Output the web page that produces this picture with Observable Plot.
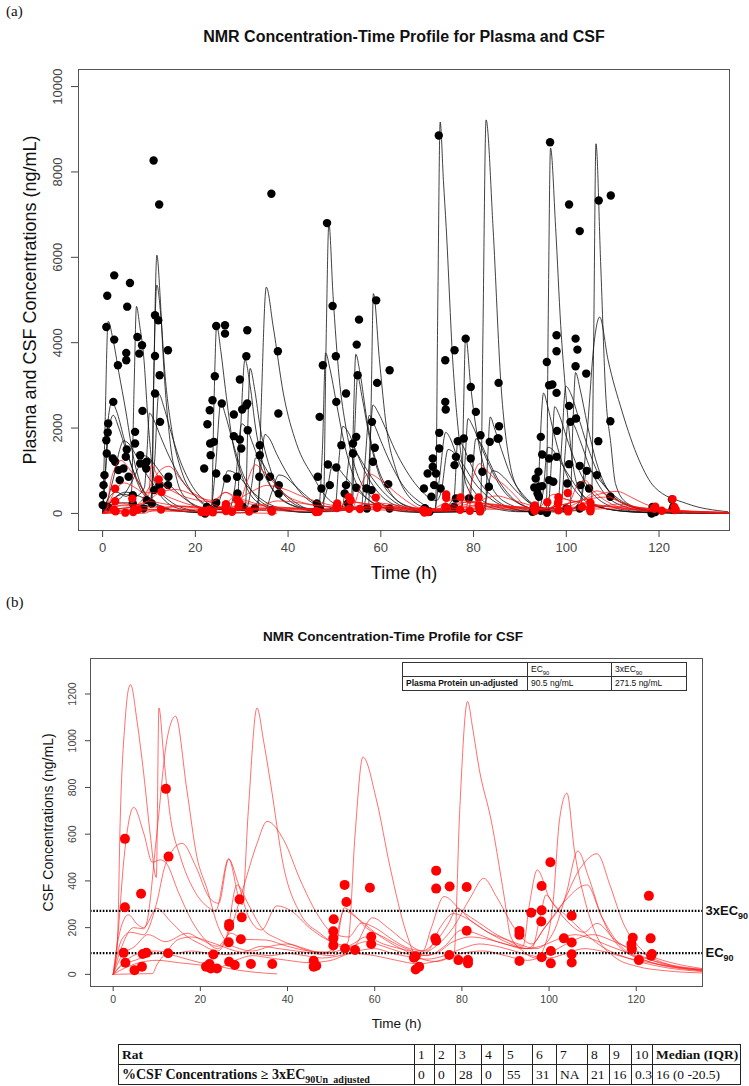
<!DOCTYPE html>
<html><head><meta charset="utf-8">
<script src="https://cdn.jsdelivr.net/npm/d3@7"></script>
<script src="https://cdn.jsdelivr.net/npm/@observablehq/plot@0.6"></script>
<style>
html,body{margin:0;padding:0;background:#fff;overflow:hidden;}
#wrap{position:relative;width:749px;height:1086px;overflow:hidden;font-family:"Liberation Sans",Arial,sans-serif;}
.abs{position:absolute;}
#pa{position:absolute;left:0;top:0;}
#pb{position:absolute;left:0;top:595px;}
.tag{font-family:"Liberation Serif","Times New Roman",serif;font-size:15px;color:#111;}
.ttl{font-weight:bold;text-align:center;color:#111;white-space:nowrap;}
table.inset{position:absolute;left:402px;top:662px;border-collapse:collapse;font-family:"Liberation Sans",Arial,sans-serif;font-size:8.5px;color:#111;background:#fff;}
table.inset td{border:1px solid #333;padding:0 3px;height:13px;line-height:13px;white-space:nowrap;}
table.bt{position:absolute;left:118px;top:1044px;width:622px;border-collapse:collapse;table-layout:fixed;font-family:"Liberation Serif","Times New Roman",serif;font-size:13.5px;color:#111;}
table.bt td{border:1px solid #222;padding:0 3px;height:19px;line-height:19px;white-space:nowrap;overflow:visible;}
sub{font-size:70%;line-height:0;}
</style></head><body>
<div id="wrap">
<div id="pa"></div>
<div id="pb"></div>
<div class="abs tag" style="left:6px;top:3px;">(a)</div>
<div class="abs ttl" style="left:104px;top:28px;width:600px;font-size:16px;">NMR Concentration-Time Profile for Plasma and CSF</div>
<div class="abs tag" style="left:6px;top:594px;">(b)</div>
<div class="abs ttl" style="left:93px;top:629px;width:600px;font-size:13.5px;">NMR Concentration-Time Profile for CSF</div>
<table class="inset" id="inset"></table>
<table class="bt" id="bt"></table>
</div>
<script>
// ---------- axis ticks ----------
const timeTicks = [0, 20, 40, 60, 80, 100, 120];
const plasmaTicks = [0, 2000, 4000, 6000, 8000, 10000];
const csfTicks = [0, 200, 400, 600, 800, 1000, 1200];

// ---------- targets ----------
const ec90 = 90.5;
const ec90x3 = 271.5;
const targetRowLabel = "Plasma Protein un-adjusted";

// ---------- summary table ----------
const rats = ["1", "2", "3", "4", "5", "6", "7", "8", "9", "10"];
const pctAbove3xEC90 = ["0", "0", "28", "0", "55", "31", "NA", "21", "16", "0.3"];
const medianIQR = "16 (0 -20.5)";

// ---------- observed plasma concentrations [time h, ng/mL] ----------
const plasmaObs = [
[11,8268],[12.2,7238],[2.5,5577],[1,5101],[5.9,5398],[5.3,4844],[0.8,4368],[2.5,4072],[3.3,3471],[5.1,3760],[5.1,3588],[7.5,4134],[8.5,3939],[7.9,3744],[11.3,4641],[12,4524],[11.3,3689],[14.1,3822],[8.6,2402],[12.3,3237],[11.3,2808],[12.4,2145],[2.3,2613],[1.2,2106],[1.1,1895],[0.8,1716],[0.9,1404],[7,1911],[7,1638],[2.2,1287],[2.7,1209],[5.2,1498],[5,1326],[0.4,897],[0.2,663],[0.1,429],[0,195],[1.1,156],[3.4,1014],[4.5,1053],[3.7,780],[5.6,858],[8.1,1365],[8.1,1170],[9.5,1209],[9.4,1053],[6.5,429],[6.5,234],[8.8,117],[9.5,312],[11.1,546],[12.3,663],[14.2,858],[14.1,663],[10.6,234],
[22.1,0],[21.9,1053],[22.6,2090],[23.7,2652],[24.2,3214],[23.1,2418],[23.2,1638],[23.3,1365],[24,1677],[24.5,936],[26.4,4407],[26.4,4212],[24.5,4391],[25.7,2574],[26.8,819],[28.3,2317],[28.3,1810],[29.6,1732],[30.1,2434],[31.2,4290],[31.0,3682],[29.6,3136],[31.2,2574],[31.3,1950],[29,858],[29.1,468],[30.2,156],[22.5,150],[23.5,60],[24.5,250],
[36.4,7488],[31.0,2535],[37.8,3799],[37.9,2340],[48.4,6802],[49.6,4859],[50.3,3682],[47.5,3471],[46.8,2262],[50.4,2613],[52.5,2808],[55.3,4540],[54.8,3955],[55.0,3237],[59,4992],[59.2,3058],[61.9,3354],[51.5,1599],[50.4,1076],[48.6,1147],[54.7,1794],[54,1638],[54,1404],[58.1,2145],[58.7,1537],[58.3,1209],[58,546],[61.6,686],[46.4,858],[47.2,585],[49,663],[52.5,663],[52.2,468],[54.7,600],[56.9,585],[46.2,234],[46.8,117],[52.9,234],[57,117],[61.9,117],[33.9,1599],[33.9,1365],[33.8,858],[36.1,858],[32.8,117],[36.4,78],[38,663],[38,468],[29.9,1521],
[69.3,585],[70.1,936],[71.2,1092],[72.5,8853],[73.9,3588],[73.9,2613],[74,2434],[75.9,3822],[72.6,1888],[72.6,1521],[71.2,1287],[71.9,936],[71.5,663],[70.9,390],[72.9,585],[76.6,1693],[76.2,1326],[75.9,1131],[78.3,4095],[79.4,2964],[80.5,2379],[79.4,1287],[77.9,1755],[81.5,1833],[81.9,975],[83.5,1677],[83.3,624],[85.4,3058],[85.4,1755],[75.8,156],[79,351],[76.2,351],[81.3,117],[69.5,120],[70.5,40],
[96.5,8697],[100.6,7238],[102.9,6614],[107,7332],[109.6,7449],[85.5,2044],[85.2,1755],[97.9,4173],[97.9,3799],[95.8,3549],[96.3,3003],[97,3019],[97.9,2824],[102,4095],[102.4,3838],[102,3448],[104.3,3276],[100.6,2519],[100.9,2145],[102.1,2223],[98,1934],[94.5,1794],[94.8,1381],[96.3,1287],[97.9,1326],[100.6,1154],[102.9,1115],[104.4,998],[106.9,1693],[109.5,2161],[94,975],[93.4,819],[93.1,608],[94.1,624],[94.8,640],[96.3,780],[97.2,741],[100.2,702],[103.1,663],[104.9,585],[94.1,390],[93.8,468],[95.8,16],[92.7,39],[106.6,897],[109.5,390],[118.4,0],[118.8,78],[122.8,328],[122.9,94],[123.1,156],[102.9,117],[100,117],[93,150],[94.5,60],[119.2,30],[118.6,150]
];

// ---------- observed CSF concentrations [time h, ng/mL] ----------
const csfObs = [
[2.7,580],[2.7,287],[2.4,92],[2.8,50],[4.9,18],[6.4,345],[6.6,33],[6.8,87],[7.6,92],[12.1,794],[12.7,504],[12.6,90],[21.3,33],[22.1,44],[22.4,25],[23.0,85],[23.8,25],[26.6,216],[26.6,205],[26.5,137],[26.6,54],[27.9,40],[29.0,321],[29.5,244],[29.3,150],[31.6,44],[36.5,44],[46.0,58],[46.0,33],[46.6,37],[50.6,236],[50.5,184],[50.5,154],[50.5,124],[53.1,383],[53.5,310],[53.2,111],[55.5,104],[58.9,371],[59.2,161],[59.2,130],[69.0,71],[69.4,78],[69.4,21],[70.2,33],[74.1,444],[74.1,367],[73.9,154],[74.1,144],[77.2,376],[77.1,83],[79.2,61],[81.1,374],[81.1,187],[81.4,61],[81.4,47],[93.2,186],[93.2,169],[93.2,57],[95.9,264],[98.3,378],[98.3,274],[98.2,226],[98.3,73],[100.3,480],[100.4,100],[100.4,47],[103.4,154],[105.2,251],[105.2,136],[105.2,86],[105.2,51],[119.2,157],[118.9,130],[119,109],[120.6,61],[122.9,336],[123.3,154],[123.4,80],[123.6,87]
];

// ---------- individual fitted plasma profiles (knots) ----------
const plasmaFits = [
[[0,0],[0.4,1500],[1.2,4500],[2.2,4100],[3.5,3300],[5,2400],[6.5,1400],[8.5,600],[12,150],[18,40],[23,20],[23.5,100],[24,2500],[24.6,4400],[25.5,3800],[26.5,2900],[28,1700],[30,900],[33,300],[38,80],[46,20],[47.6,50],[48.2,4000],[48.8,6800],[49.7,5100],[51,3200],[52.5,2000],[54,1250],[57,500],[62,150],[70,30],[71.8,40],[72.3,5000],[72.8,9170],[73.5,7800],[74.1,6700],[75.5,3600],[77,1650],[78.5,650],[82,200],[90,40],[95.7,50],[96.1,4500],[96.6,8560],[97.7,6700],[98.8,4400],[99.9,2800],[101.3,1250],[103,500],[107,150],[115,30],[125,5]],
[[0,0],[1,300],[3,500],[5,400],[6.2,500],[6.8,3000],[7.3,4850],[8,4400],[8.8,3750],[9.9,2030],[11,860],[13,350],[17,100],[23,30],[28,10],[33.5,50],[34.2,2500],[35.3,5300],[36.8,4370],[39,2800],[41.8,1640],[45.4,860],[48.2,390],[52,150],[57.3,80],[57.9,2500],[58.4,5150],[59.7,3600],[61.2,2030],[63.3,1010],[66,400],[70,120],[76,40],[81.5,60],[82,4000],[82.7,9220],[84.2,6700],[85.9,3040],[87.7,1250],[90,500],[94,150],[98,50],[105.4,100],[105.9,4000],[106.4,8660],[107.4,5900],[108.5,2800],[109.6,1640],[110.6,700],[113,250],[118,60],[125,10],[135,2]],
[[0,0],[2,200],[5,250],[8,200],[10.5,150],[11,3000],[11.7,6050],[12.4,5100],[13.1,3600],[14.6,1640],[16,800],[18,350],[22,100],[29,100],[29.7,1800],[30.7,3600],[31.8,3000],[33,2000],[35,1000],[38,400],[43,120],[48,40],[53.6,100],[54.1,2200],[54.6,3730],[55.5,3300],[57,2200],[59,1200],[62,500],[66,150],[72,40],[77.4,100],[77.8,2200],[78.3,4150],[79.4,2960],[80.5,2030],[82,1200],[84,600],[88,200],[94,50],[100,30],[103,300],[104.5,1900],[106,4000],[107.2,4600],[109,3600],[112,2400],[115.7,1250],[119,620],[126,230],[134.8,40]],
[[0,0],[2,300],[5,500],[8,400],[10.6,300],[11.1,3500],[11.7,5350],[12.5,4700],[13.5,3200],[15,1900],[17,1000],[20,400],[23,150],[28,80],[30.8,150],[31.3,2000],[31.8,3400],[32.8,2900],[34,2000],[36,1100],[39,450],[44,120],[53.8,80],[54.4,2000],[55,3200],[56,2700],[57.5,1800],[59.5,950],[63,350],[68,100],[72,30],[82.5,60],[83,1200],[83.6,2260],[84.5,2000],[86,1500],[88,900],[91,400],[95,130],[100.8,100],[101.4,2000],[102,3300],[103,2900],[104.5,2100],[106.5,1200],[109,550],[113,200],[120,40],[130,8]],
[[0,0],[0.5,800],[1.2,2200],[2,2600],[3,2400],[4.5,1800],[6,1200],[8,600],[11,250],[15,80],[22,20],[23.2,30],[24.3,1000],[25.5,2600],[26.5,2300],[28,1700],[30,1000],[33,400],[37,130],[44,30],[46.5,40],[47.4,1500],[48.1,3760],[49,3400],[50.4,2600],[52,1700],[54,900],[57,350],[62,100],[70,20],[71.5,50],[72.5,700],[74,1900],[75,1750],[76.5,1300],[78.5,800],[81,400],[85,150],[92,40],[93.8,60],[94.3,1500],[95.1,2820],[96,2500],[97,2030],[98.5,1400],[100.5,800],[103,400],[107,150],[114,40],[124,8]],
[[0,0],[0.6,900],[1.4,2000],[2.3,2300],[3.5,2000],[5,1500],[7,900],[9,500],[12,200],[17,60],[23,15],[27,40],[28.5,600],[30,2100],[31,2000],[32.5,1600],[34.5,1000],[37,500],[41,180],[47,40],[50.2,200],[51,1300],[51.8,2040],[53,1900],[54.5,1500],[56.5,1000],[59,550],[63,200],[70,40],[77.5,150],[78.2,1300],[78.8,2220],[79.8,2050],[81.5,1600],[83.5,1100],[86,600],[90,220],[96,60],[96.8,1200],[97.5,2500],[98.5,2300],[100,1800],[102,1200],[104.5,650],[108,250],[114,60],[124,10]],
[[0,0],[3,100],[7,150],[10,200],[11.2,1200],[12.1,2800],[13.2,2500],[14.5,2000],[16.5,1300],[19,700],[22,300],[24,150],[32,60],[33.5,300],[34.3,1300],[35,1850],[36,1750],[37.5,1400],[40,900],[43,450],[47,180],[56,100],[57.3,900],[58.3,2540],[59.5,2350],[61,2000],[63,1500],[65.5,1000],[68,620],[72,300],[73,500],[74.5,1500],[76,1400],[78,1100],[80,750],[83,400],[87,150],[93,40],[98.2,200],[99,1600],[99.9,2980],[101,2800],[102.5,2300],[104.5,1600],[107,900],[110,420],[115,130],[122,30],[132,5]],
[[0,0],[2,300],[4.5,450],[7,400],[9,600],[9.6,1500],[10.1,2350],[11,2200],[12.5,1800],[14.5,1300],[17,800],[20,400],[24,150],[31,120],[32.2,700],[33,1300],[34,1250],[35.5,1000],[38,600],[41,300],[45,100],[55.8,150],[56.6,1200],[57.5,2300],[58.5,2100],[60,1700],[62,1200],[64.5,700],[68,300],[73,80],[75.8,400],[76.6,1700],[77.6,1600],[79,1250],[81,800],[84,400],[88,130],[94,30],[99,300],[99.6,1200],[100.5,2200],[101.5,2100],[103,1700],[105,1100],[108,500],[112,180],[118,50],[127,8]],
[[0,0],[1,300],[2.5,900],[3.7,1500],[4.5,1700],[5.5,1650],[7,1400],[9,1000],[11.5,600],[15,250],[20,60],[24,20],[25.5,400],[27,1000],[28,980],[29.5,850],[31.5,600],[34,350],[38,130],[44,30],[51.5,100],[52.6,800],[53.5,1500],[54.5,1450],[56,1200],[58,850],[61,450],[65,150],[71,30],[79,60],[79.7,900],[80.5,1750],[81.5,1650],[83,1300],[85,850],[88,400],[92,130],[94,100],[95,500],[96,1550],[97,1500],[98.5,1250],[100.5,900],[103,500],[106,220],[111,70],[118,15]],
[[0,0],[2,200],[5,500],[7,900],[8.2,1200],[9,1350],[10,1300],[11.5,1100],[13.5,800],[16,500],[19,250],[23,100],[35,80],[36.5,500],[38,900],[39,880],[41,700],[43.5,450],[47,200],[48.5,600],[49.5,1100],[50.5,1080],[52,900],[54,650],[57,350],[61,120],[67,30],[82,50],[83,500],[84,1000],[85,980],[86.5,850],[89,550],[92,250],[96,80],[103,150],[103.8,700],[104.5,1000],[105.5,980],[107,800],[109.5,500],[113,220],[118,70],[127,15],[135,3]]
];

// ---------- individual fitted CSF profiles (knots) ----------
const csfFits = [
[[0,0],[1,150],[1.6,650],[2.7,1076],[3.5,1220],[4,1240],[5.5,1080],[7,860],[8.5,600],[9.9,415],[10.5,1140],[11.6,933],[13.1,676],[15.4,504],[18.5,362],[21.6,290],[23.5,272],[26.5,495],[28.8,330],[29.6,297],[31,700],[33,1140],[34.5,1000],[36.1,819],[39.1,461],[42.9,261],[47.5,175],[52.8,118],[53.9,140],[55.5,600],[57.3,930],[60.4,747],[63.5,461],[67.3,175],[69.6,76],[74,55],[78.2,90],[79.5,700],[81.3,1168],[82.5,1050],[84,876],[86.7,661],[89.7,333],[91.2,162],[94,100],[97,70],[99.5,150],[100.9,304],[102.4,662],[104.1,776],[105.8,533],[108.4,304],[111,162],[114.9,76],[120,35],[127,15],[135,6]],
[[0,0],[1,150],[2.5,500],[4.7,715],[7,605],[9,480],[10.8,490],[12,480],[15,350],[18,230],[21,150],[24,110],[27,200],[30,380],[33,560],[35.3,655],[39.1,576],[42.9,405],[46.7,262],[50.5,175],[54,160],[57,220],[60,200],[64,150],[68,110],[72,100],[75,200],[78,260],[82,230],[86,180],[90,150],[94,120],[95.5,300],[97.3,447],[100,330],[104,250],[108,180],[112,120],[118,70],[125,35],[135,12]],
[[0,0],[2,120],[4.7,200],[7,195],[7.7,220],[10,600],[12.3,1000],[14.3,1105],[16.9,790],[19.2,504],[21.6,362],[23.8,219],[26,140],[29,110],[32,100],[36,120],[40,130],[44,110],[48,90],[51,120],[53,285],[55,260],[58,200],[62,160],[66,120],[70,95],[74,140],[77,220],[78.9,283],[82,230],[86,180],[90,140],[95,110],[99,200],[103,300],[107,450],[111,516],[114,380],[117,220],[121,110],[127,45],[135,18]],
[[0,0],[2,150],[4,180],[7,170],[9.9,300],[12,470],[15.8,561],[19,460],[22,330],[24.2,304],[26.5,493],[28.5,400],[31,250],[34,190],[37.6,293],[41,270],[45,200],[50,140],[55,120],[59.5,242],[63,200],[67,140],[71,100],[73,200],[75.9,333],[80,270],[84,220],[88,170],[93,130],[97,110],[101,180],[104,350],[106.6,528],[109,420],[112,250],[116,120],[122,60],[135,18]],
[[0,0],[1.5,180],[3.5,255],[5.5,215],[7,200],[10,283],[13,230],[16,175],[20,130],[24,100],[26,160],[28.4,383],[31,300],[34,200],[38,150],[42,120],[46,95],[50,90],[53,272],[56,240],[60,180],[65,120],[70,85],[74,120],[78,200],[82,330],[85,411],[88,330],[92,200],[96,130],[99,200],[103,300],[108.7,383],[112,250],[116,130],[122,60],[135,15]],
[[0,0],[2,80],[5,120],[8,170],[12,140],[17,176],[20,150],[24,120],[27,176],[30,150],[35,147],[40,120],[45,100],[50,95],[55,130],[58,160],[62,130],[68,100],[72,80],[76,120],[80,190],[84,170],[88,140],[92,120],[96,110],[98,250],[99.3,340],[101,300],[104,230],[108,180],[111,218],[115,150],[120,90],[127,40],[135,18]],
[[0,0],[3,60],[6,90],[10,100],[14,90],[18,100],[22,90],[26,85],[30,95],[34,120],[38,110],[42,100],[46,90],[50,80],[54,110],[58,140],[62,120],[66,95],[70,80],[74,90],[78,140],[82,160],[86,150],[90,130],[94,110],[98,120],[102,150],[106,170],[110,150],[114,120],[120,80],[128,40],[135,20]],
[[0,0],[2,40],[5,60],[8,80],[10,90],[13,85],[16,70],[20,50],[24,35],[28,20],[32,10],[37.5,2]],
[[0,0],[5,2],[9,3],[10,40],[12,90],[15,150],[18,160],[22,140],[25,120],[28,100],[32,90],[36,80],[40,90],[44,80],[48,70],[52,80],[56,100],[60,110],[64,90],[68,75],[72,65],[76,80],[80,110],[84,130],[88,120],[92,100],[96,80],[100,70],[104,90],[108,110],[112,100],[118,70],[126,40],[135,22]],
[[0,0],[3,30],[6,50],[10,60],[15,50],[20,40],[24,30],[28,60],[32,80],[36,70],[40,60],[45,50],[50,60],[55,90],[60,80],[65,60],[70,45],[75,60],[80,90],[85,100],[90,80],[95,60],[100,90],[105,140],[110,170],[115,140],[120,100],[128,50],[135,25]]
];

// ---------- build tables for Plot ----------
const flat = fits => fits.flatMap((pts, i) => pts.map(([t, c]) => ({rat: i + 1, t, c})));
const plasmaLines = flat(plasmaFits);
const csfLines = flat(csfFits);
const plasmaPts = plasmaObs.map(([t, c]) => ({t, c}));
const csfPts = csfObs.map(([t, c]) => ({t, c}));
const FONT = "Liberation Sans, Arial, sans-serif";

// ---------- panel (a) ----------
const A = Plot.plot({
  width: 749, height: 595,
  marginTop: 69, marginBottom: 65, marginLeft: 78, marginRight: 20,
  x: {domain: [-5.2, 135.2]},
  y: {domain: [-400, 10400]},
  style: {fontFamily: FONT, background: "transparent", overflow: "visible"},
  marks: [
    Plot.line(plasmaLines, {x: "t", y: "c", z: "rat", stroke: "#111", strokeWidth: 0.8, curve: "monotone-x"}),
    Plot.dot(plasmaPts, {x: "t", y: "c", r: 4.2, fill: "#000", stroke: "none"}),
    Plot.line(csfLines, {x: "t", y: "c", z: "rat", stroke: "#ff1010", strokeWidth: 0.75, curve: "monotone-x"}),
    Plot.dot(csfPts, {x: "t", y: "c", r: 4.2, fill: "#ff0000", stroke: "none"}),
    Plot.frame({stroke: "#555", strokeWidth: 1}),
    Plot.axisX(timeTicks, {anchor: "bottom", tickSize: 7, tickPadding: 5, fontSize: 13, color: "#444", label: null}),
    Plot.axisY(plasmaTicks, {anchor: "left", tickSize: 7, fill: "none", stroke: "#444"}),
    Plot.text(plasmaTicks, {y: d => d, frameAnchor: "left", dx: -21, rotate: -90, text: d => String(d), fontSize: 13, fill: "#444", textAnchor: "middle", lineAnchor: "middle"}),
    Plot.text(["Time (h)"], {frameAnchor: "bottom", dy: 48, text: d => d, fontSize: 18, fill: "#111", textAnchor: "middle"}),
    Plot.text(["Plasma and CSF Concentrations (ng/mL)"], {frameAnchor: "left", dx: -48, rotate: -90, text: d => d, fontSize: 18, fill: "#111", textAnchor: "middle", lineAnchor: "middle"})
  ]
});
document.getElementById("pa").append(A);

// ---------- panel (b) ----------
const targets = [{y: ec90x3, label: "3xEC90"}, {y: ec90, label: "EC90"}];
const B = Plot.plot({
  width: 749, height: 445,
  marginTop: 63, marginBottom: 54, marginLeft: 90, marginRight: 47,
  x: {domain: [-5.2, 135.2]},
  y: {domain: [-52, 1352]},
  style: {fontFamily: FONT, background: "transparent", overflow: "visible"},
  marks: [
    Plot.line(csfLines, {x: "t", y: "c", z: "rat", stroke: "#ff2a2a", strokeWidth: 0.8, strokeOpacity: 0.85, curve: "monotone-x"}),
    Plot.ruleY(targets, {y: "y", stroke: "#000", strokeWidth: 2.2, strokeDasharray: "1.6,1.6"}),
    Plot.dot(csfPts, {x: "t", y: "c", r: 5, fill: "#ff0000", stroke: "none"}),
    Plot.frame({stroke: "#555", strokeWidth: 1}),
    Plot.axisX(timeTicks, {anchor: "bottom", tickSize: 5, tickPadding: 4, fontSize: 10.5, color: "#444", label: null}),
    Plot.axisY(csfTicks, {anchor: "left", tickSize: 5, fill: "none", stroke: "#444"}),
    Plot.text(csfTicks, {y: d => d, frameAnchor: "left", dx: -18, rotate: -90, text: d => String(d), fontSize: 10.5, fill: "#444", textAnchor: "middle", lineAnchor: "middle"}),
    Plot.text(["Time (h)"], {frameAnchor: "bottom", dy: 41, text: d => d, fontSize: 13.5, fill: "#111", textAnchor: "middle"}),
    Plot.text(["CSF Concentrations (ng/mL)"], {frameAnchor: "left", dx: -42, rotate: -90, text: d => d, fontSize: 14, fill: "#111", textAnchor: "middle", lineAnchor: "middle"}),
    Plot.text(targets, {y: "y", frameAnchor: "right", dx: 3, textAnchor: "start", text: "label", fontSize: 13, fontWeight: "bold", fill: "#111"})
  ]
});
B.querySelectorAll("text").forEach(el => {
  const m = el.textContent.match(/^(3xEC|EC)90$/);
  if (m) {
    el.textContent = m[1];
    const ts = document.createElementNS("http://www.w3.org/2000/svg", "tspan");
    ts.setAttribute("dy", "4");
    ts.setAttribute("font-size", "9");
    ts.textContent = "90";
    el.appendChild(ts);
  }
});
document.getElementById("pb").append(B);

// ---------- inset table ----------
const fmt = v => v + " ng/mL";
document.getElementById("inset").innerHTML =
  `<tr><td style="width:118px"></td><td style="width:77px">EC<sub>90</sub></td><td style="width:68px">3xEC<sub>90</sub></td></tr>` +
  `<tr><td style="font-weight:bold">${targetRowLabel}</td><td>${fmt(ec90)}</td><td>${fmt(ec90x3)}</td></tr>`;

// ---------- bottom table ----------
const colW = [20, 21, 26, 22, 29, 24, 31, 22, 22, 21];
document.getElementById("bt").innerHTML =
  `<colgroup><col style="width:296px">` + colW.map(w => `<col style="width:${w}px">`).join("") + `<col style="width:88px"></colgroup>` +
  `<tr><td style="font-weight:bold">Rat</td>` + rats.map(r => `<td>${r}</td>`).join("") + `<td style="font-weight:bold">Median (IQR)</td></tr>` +
  `<tr><td style="font-weight:bold;font-size:14px">%CSF Concentrations ≥ 3xEC<sub style="font-size:10px">90Un_adjusted</sub></td>` + pctAbove3xEC90.map(v => `<td>${v}</td>`).join("") + `<td>${medianIQR}</td></tr>`;
</script>
</body></html>
